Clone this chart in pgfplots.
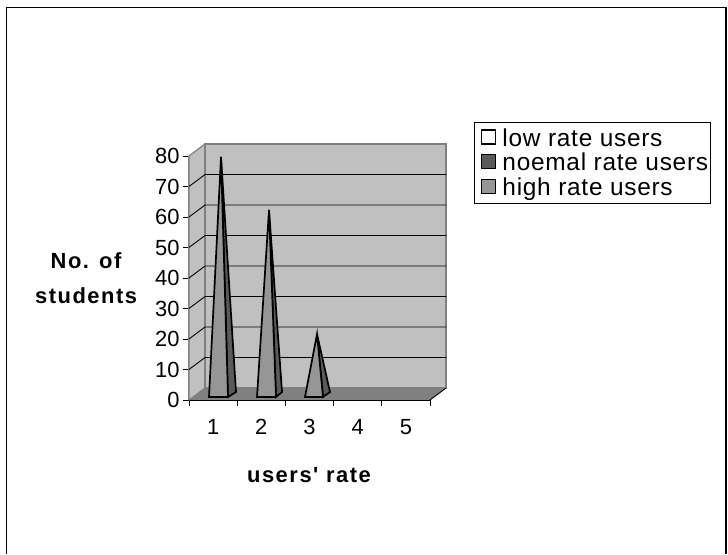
\documentclass[border=0pt]{standalone}
\usepackage{pgfplots}
\pgfplotsset{compat=1.18}
\usepackage{fontspec}
\setmainfont{Liberation Sans}
\newfontfamily\boldspaced[LetterSpace=7,Scale=1]{Liberation Sans Bold}
\newfontfamily\legendfont[LetterSpace=3]{Liberation Sans}
\definecolor{wall}{HTML}{C0C0C0}
\definecolor{edge}{HTML}{808080}
\definecolor{front}{HTML}{969696}
\definecolor{side}{HTML}{5A5A5A}
\begin{document}
\begin{tikzpicture}[x=1bp,y=1bp]
\path (0,0) rectangle (728,554);
\draw[black,line width=1.2bp] (6.5,0) -- (6.5,546.5) -- (726,546.5) -- (726,0);
\begin{axis}[
    at={(189bp,154bp)},
    width=241bp, height=244bp,
    scale only axis,
    xmin=0.5, xmax=5.5, ymin=0, ymax=80,
    axis x line*=bottom, axis y line*=left,
    x axis line style={black,line width=1.2bp,-},
    y axis line style={edge,line width=1.6bp,-},
    xtick={0.5,1.5,2.5,3.5,4.5,5.5},
    xticklabels={},
    extra x ticks={1,2,3,4,5},
    extra x tick style={major tick length=0pt,tick label style={yshift=-16bp}},
    extra x tick labels={1,2,3,4,5},
    ytick={0,10,...,80},
    tick style={black,line width=0.8bp},
    tick align=outside,
    major tick length=6bp,
    tick label style={font=\fontsize{22}{22}\selectfont},
    /pgf/number format/assume math mode=true,
    clip=false,
    xlabel={users' rate},
    xlabel style={at={(axis description cs:0.498,-0.307)},anchor=center,font=\fontsize{22}{22}\boldspaced},
    ylabel={No. of\\students},
    ylabel style={at={(axis description cs:-0.427,0.5)},rotate=-90,anchor=center,align=center,font=\fontsize{22}{35}\boldspaced},
    legend style={at={(axis description cs:1.183,1.139)},anchor=north west,draw=black,line width=0.8bp,
        font=\fontsize{24.5}{24.5}\legendfont,inner xsep=0bp,inner ysep=4bp,row sep=1.5bp,
        cells={anchor=west}},
    legend image code/.code={
        \path[draw=none,fill=none] (0bp,0bp) rectangle (26bp,0bp);
        \draw[#1,draw=black,line width=1.4bp] (7bp,-6bp) rectangle (21bp,8bp);},
]
% walls and floor
\addplot[forget plot,fill=wall,draw=edge,line width=1.2bp] coordinates {(0.5,0)(0.832,3.93)(0.832,83.93)(0.5,80)} -- cycle;
\addplot[forget plot,fill=wall,draw=edge,line width=1.2bp] coordinates {(0.832,3.93)(5.832,3.93)(5.832,83.93)(0.832,83.93)} -- cycle;
\addplot[forget plot,black,line width=0.9bp,unbounded coords=jump] coordinates {
    (0.5,10)(0.832,13.93)(5.832,13.93)(0.5,nan)
    (0.5,20)(0.832,23.93)(5.832,23.93)(0.5,nan)
    (0.5,30)(0.832,33.93)(5.832,33.93)(0.5,nan)
    (0.5,40)(0.832,43.93)(5.832,43.93)(0.5,nan)
    (0.5,50)(0.832,53.93)(5.832,53.93)(0.5,nan)
    (0.5,60)(0.832,63.93)(5.832,63.93)(0.5,nan)
    (0.5,70)(0.832,73.93)(5.832,73.93)
};
\addplot[forget plot,fill=edge,draw=none] coordinates {(0.5,0)(5.5,0)(5.832,3.93)(0.832,3.93)} -- cycle;
\addplot[forget plot,black,line width=0.9bp] coordinates {(5.5,0)(5.832,3.93)};
% pyramid sides (dark face), then fronts
\addplot[forget plot,fill=side,draw=black,line width=1.7bp] coordinates {(1.309,1)(1.475,2.6)(1.164,79.7)} -- cycle;
\addplot[forget plot,fill=side,draw=black,line width=1.7bp] coordinates {(2.305,1)(2.43,2.6)(2.16,62.3)} -- cycle;
\addplot[forget plot,fill=side,draw=black,line width=1.7bp] coordinates {(3.28,1)(3.425,2.6)(3.156,21.6)} -- cycle;
\addplot[forget plot,fill=front,draw=black,line width=1.7bp] coordinates {(0.915,1)(1.309,1)(1.164,79.7)} -- cycle;
\addplot[forget plot,fill=front,draw=black,line width=1.7bp] coordinates {(1.911,1)(2.305,1)(2.16,62.3)} -- cycle;
\addplot[forget plot,fill=front,draw=black,line width=1.7bp] coordinates {(2.907,1)(3.28,1)(3.156,21.6)} -- cycle;
\addlegendimage{fill=white}
\addlegendentry{low rate users}
\addlegendimage{fill=side}
\addlegendentry{noemal rate users}
\addlegendimage{fill=front}
\addlegendentry{high rate users}
\end{axis}
\end{tikzpicture}
\end{document}
